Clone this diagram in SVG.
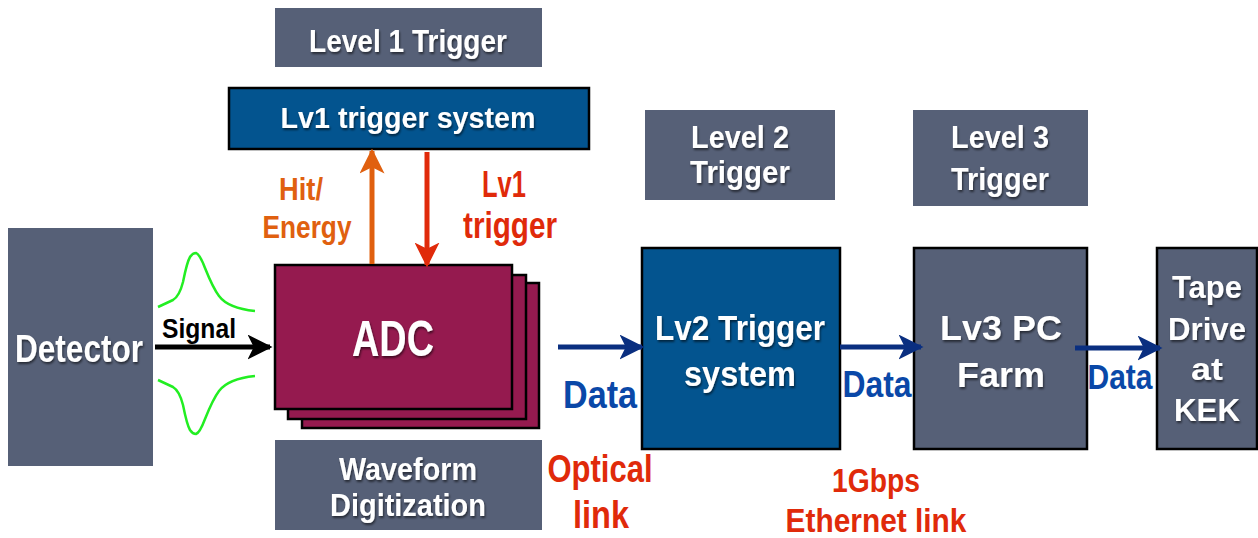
<svg xmlns="http://www.w3.org/2000/svg" width="1258" height="538" viewBox="0 0 1258 538">
<style>
.gray{fill:#566077}
.blue{fill:#03548f;stroke:#000;stroke-width:2.5}
.grayb{fill:#566077;stroke:#000;stroke-width:2.5}
.adc{fill:#951a4f;stroke:#000;stroke-width:2.5}
text{font-family:"Liberation Sans",Arial,sans-serif;font-weight:bold;text-anchor:middle}
.w{fill:#fff;filter:url(#sh)}
.or{fill:#e0600f}
.rd{fill:#e02a0a}
.db{fill:#0a48a8}
.bk{fill:#000}
.wave{fill:none;stroke:#22ee22;stroke-width:2.5;stroke-linejoin:round}
</style>
<defs>
<filter id="sh" x="-10%" y="-20%" width="130%" height="150%">
<feDropShadow dx="1" dy="2" stdDeviation="1.2" flood-color="#000" flood-opacity="0.55"/>
</filter>
<marker id="ah" viewBox="0 0 10 10" refX="9" refY="5" markerWidth="5" markerHeight="5" markerUnits="strokeWidth" orient="auto">
<path d="M0,0 L10,5 L0,10 L2.5,5 Z" fill="context-stroke"/>
</marker>
</defs>

<g id="detector">
<rect class="gray" x="8" y="228" width="145" height="238"/>
<text class="w" x="79" y="362" font-size="39" textLength="128" lengthAdjust="spacingAndGlyphs">Detector</text>
</g>

<g id="waveforms">
<path class="wave" d="M158,307 L173,300 C178,297 181,290 183,282 C185,272 187,262 190,257 C192,254 194,253 196,253 C199,254 202,260 205,268 C209,278 213,288 219,296 C225,304 235,309 255,311"/>
<path class="wave" d="M158,380 L173,387 C178,390 181,397 183,405 C185,415 187,425 190,430 C192,433 194,434 196,434 C199,433 202,427 205,419 C209,409 213,399 219,391 C225,383 235,378 255,376"/>
</g>

<g id="level1-label">
<rect class="gray" x="275" y="8" width="267" height="59"/>
<text class="w" x="408" y="52" font-size="31" textLength="198" lengthAdjust="spacingAndGlyphs">Level 1 Trigger</text>
</g>

<g id="lv1-system">
<rect class="blue" x="229" y="88" width="360" height="61"/>
<text class="w" x="408" y="128" font-size="30" textLength="255" lengthAdjust="spacingAndGlyphs">Lv1 trigger system</text>
</g>

<g id="adc">
<rect class="adc" x="302" y="283" width="237" height="145"/>
<rect class="adc" x="288" y="275" width="238" height="144"/>
<rect class="adc" x="275" y="265" width="237" height="144"/>
<text class="w" x="393" y="356" font-size="50" textLength="82" lengthAdjust="spacingAndGlyphs">ADC</text>
</g>

<g id="waveform-label">
<rect class="gray" x="275" y="440" width="267" height="90"/>
<text class="w" x="408" y="480" font-size="31" textLength="138" lengthAdjust="spacingAndGlyphs">Waveform</text>
<text class="w" x="408" y="516" font-size="31" textLength="156" lengthAdjust="spacingAndGlyphs">Digitization</text>
</g>

<g id="level2-label">
<rect class="gray" x="645" y="110" width="190" height="90"/>
<text class="w" x="740" y="148" font-size="31" textLength="98" lengthAdjust="spacingAndGlyphs">Level 2</text>
<text class="w" x="740" y="183" font-size="31" textLength="100" lengthAdjust="spacingAndGlyphs">Trigger</text>
</g>

<g id="level3-label">
<rect class="gray" x="913" y="110" width="175" height="96"/>
<text class="w" x="1000" y="148" font-size="31" textLength="98" lengthAdjust="spacingAndGlyphs">Level 3</text>
<text class="w" x="1000" y="190" font-size="31" textLength="98" lengthAdjust="spacingAndGlyphs">Trigger</text>
</g>

<g id="lv2-system">
<rect class="blue" x="642" y="248" width="198" height="201"/>
<text class="w" x="740" y="340" font-size="35" textLength="170" lengthAdjust="spacingAndGlyphs">Lv2 Trigger</text>
<text class="w" x="740" y="386" font-size="35" textLength="112" lengthAdjust="spacingAndGlyphs">system</text>
</g>

<g id="lv3-farm">
<rect class="grayb" x="914" y="248" width="173" height="201"/>
<text class="w" x="1001" y="340" font-size="35" textLength="122" lengthAdjust="spacingAndGlyphs">Lv3 PC</text>
<text class="w" x="1001" y="387" font-size="35" textLength="88" lengthAdjust="spacingAndGlyphs">Farm</text>
</g>

<g id="tape-drive">
<rect class="grayb" x="1157" y="248" width="100" height="201"/>
<text class="w" x="1207" y="298" font-size="31" textLength="70" lengthAdjust="spacingAndGlyphs">Tape</text>
<text class="w" x="1207" y="340" font-size="31" textLength="78" lengthAdjust="spacingAndGlyphs">Drive</text>
<text class="w" x="1207" y="380" font-size="31" textLength="32" lengthAdjust="spacingAndGlyphs">at</text>
<text class="w" x="1207" y="421" font-size="31" textLength="66" lengthAdjust="spacingAndGlyphs">KEK</text>
</g>

<g id="connectors">
<line x1="155" y1="347" x2="270" y2="347" stroke="#000" stroke-width="5" marker-end="url(#ah)"/>
<line x1="372" y1="264" x2="372" y2="151" stroke="#e0600f" stroke-width="5" marker-end="url(#ah)"/>
<line x1="427" y1="152" x2="427" y2="265" stroke="#e02a0a" stroke-width="5" marker-end="url(#ah)"/>
<line x1="558" y1="347" x2="642" y2="347" stroke="#0a2f80" stroke-width="5" marker-end="url(#ah)"/>
<line x1="840" y1="347" x2="921" y2="347" stroke="#0a2f80" stroke-width="5" marker-end="url(#ah)"/>
<line x1="1075" y1="348" x2="1160" y2="348" stroke="#0a2f80" stroke-width="5" marker-end="url(#ah)"/>
</g>

<g id="labels">
<text class="bk" x="199" y="338" font-size="27" textLength="74" lengthAdjust="spacingAndGlyphs">Signal</text>
<text class="or" x="301" y="200" font-size="31" textLength="44" lengthAdjust="spacingAndGlyphs">Hit/</text>
<text class="or" x="307" y="238" font-size="31" textLength="89" lengthAdjust="spacingAndGlyphs">Energy</text>
<text class="rd" x="504" y="197" font-size="36" textLength="44" lengthAdjust="spacingAndGlyphs">Lv1</text>
<text class="rd" x="510" y="238" font-size="36" textLength="94" lengthAdjust="spacingAndGlyphs">trigger</text>
<text class="db" x="600" y="408" font-size="39" textLength="74" lengthAdjust="spacingAndGlyphs">Data</text>
<text class="db" x="877" y="397" font-size="37" textLength="69" lengthAdjust="spacingAndGlyphs">Data</text>
<text class="db" x="1120" y="389" font-size="35" textLength="65" lengthAdjust="spacingAndGlyphs">Data</text>
<text class="rd" x="600" y="482" font-size="38" textLength="105" lengthAdjust="spacingAndGlyphs">Optical</text>
<text class="rd" x="601" y="528" font-size="38" textLength="56" lengthAdjust="spacingAndGlyphs">link</text>
<text class="rd" x="876" y="492" font-size="33" textLength="88" lengthAdjust="spacingAndGlyphs">1Gbps</text>
<text class="rd" x="876" y="532" font-size="33" textLength="181" lengthAdjust="spacingAndGlyphs">Ethernet link</text>
</g>
</svg>
